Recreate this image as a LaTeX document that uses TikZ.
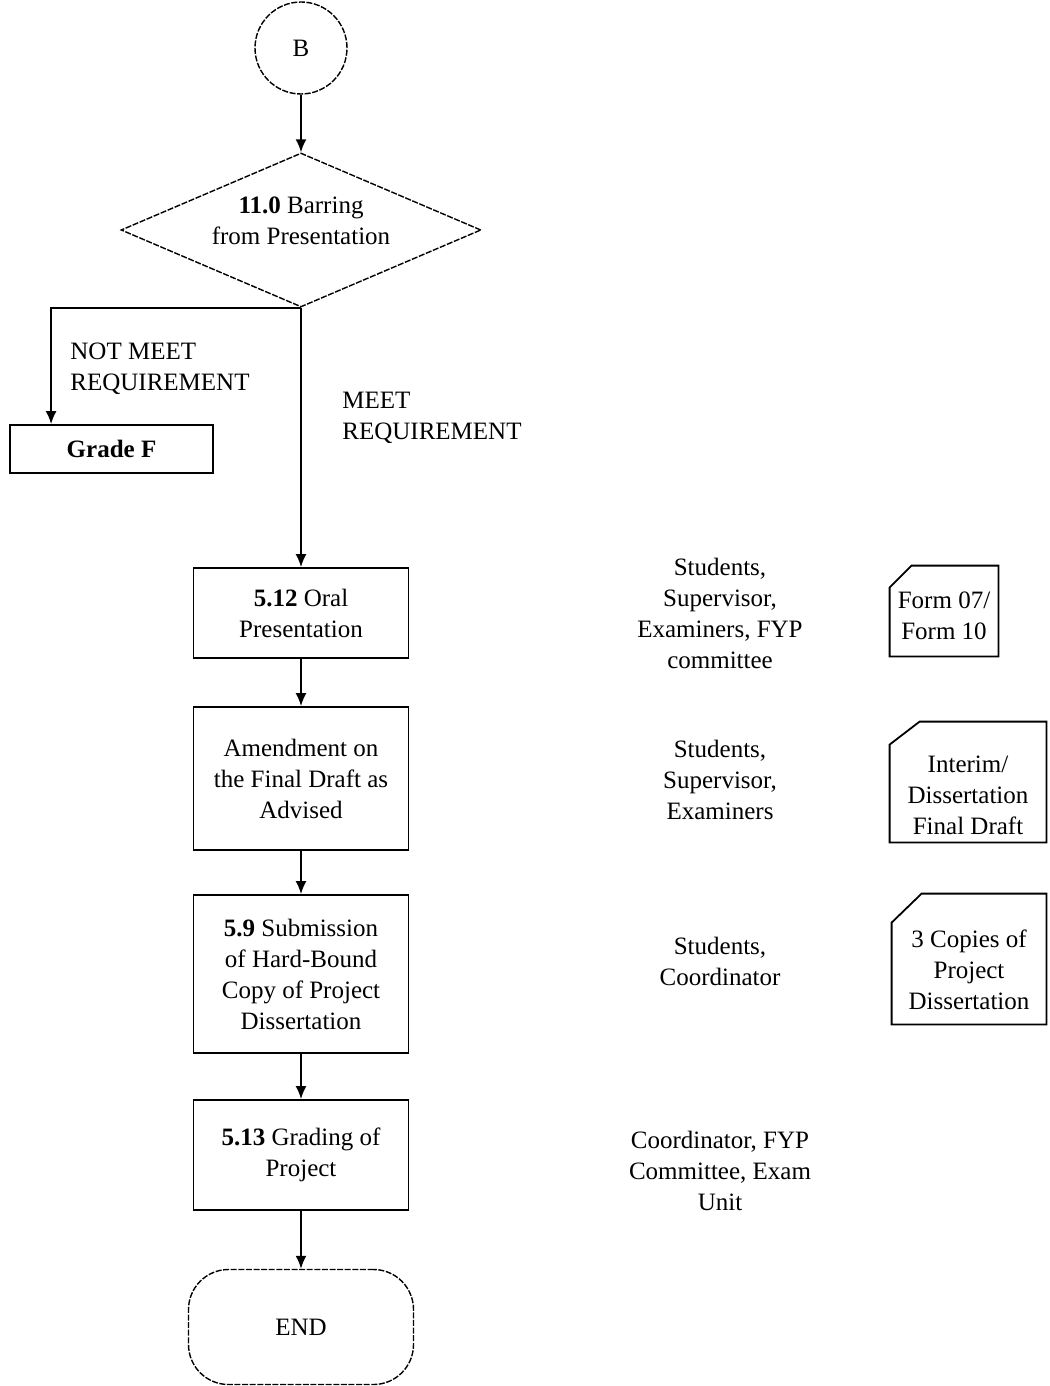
\documentclass[tikz,border=0pt]{standalone}
\usepackage{fontspec}
\setmainfont{Liberation Serif}
\usetikzlibrary{shapes.geometric,arrows.meta,calc}
\begin{document}
\begin{tikzpicture}[x=0.5pt,y=-0.5pt,
  every node/.style={font=\fontsize{12.5}{15.5}\selectfont, align=center, inner sep=0pt},
  box/.style={draw, line width=0.9pt, minimum width=107.5pt},
  arr/.style={-{Latex[length=6.5pt,width=5.5pt]}, line width=0.9pt},
  dsh/.style={draw, line width=0.7pt, dash pattern=on 3pt off 0.8pt},
  docline/.style={draw, line width=0.9pt},
  lbl/.style={align=left}
]
\useasboundingbox (0,0) rectangle (1049,1386);

% start connector
\node[dsh, circle, minimum size=46pt] (b) at (301,48) {B};

% decision
\node[dsh, diamond, minimum width=180pt, minimum height=77pt, aspect=2.34] (d) at (301,230) {};
\node (dt) at (301,221) {\textbf{11.0} Barring\\from Presentation};

% grade F
\node[box, minimum width=101.5pt, minimum height=24pt] (gf) at (111.5,449) {\textbf{Grade F}};

% main column
\node[box, minimum height=45pt] (oral) at (301,613) {\textbf{5.12} Oral\\Presentation};
\node[box, minimum height=71.5pt] (amend) at (301,778.5) {Amendment on\\the Final Draft as\\Advised};
\node[box, minimum height=79pt] (sub) at (301,974) {\textbf{5.9} Submission\\of Hard-Bound\\Copy of Project\\Dissertation};
\node[box, minimum height=55pt] (grad) at (301,1155) {\textbf{5.13} Grading of\\Project};
\node[dsh, rounded corners=20pt, minimum width=112.5pt, minimum height=57.5pt] (end) at (301,1327) {END};

% labels on branches
\node[lbl, anchor=north west] (nm) at (70,343) {NOT MEET\\REQUIREMENT};
\node[lbl, anchor=north west] (mr) at (342,392) {MEET\\REQUIREMENT};

% responsible parties
\node (r1) at (720,613) {Students,\\Supervisor,\\Examiners, FYP\\committee};
\node (r2) at (720,780) {Students,\\Supervisor,\\Examiners};
\node (r3) at (720,961) {Students,\\Coordinator};
\node (r4) at (720,1171) {Coordinator, FYP\\Committee, Exam\\Unit};

% documents
\node[minimum width=54pt, minimum height=45pt] (f1) at (944,611) {};
\node (f1t) at (944,616) {Form 07/\\Form 10};
\draw[docline] ($(f1.north west)+(22,0)$) -- (f1.north east) -- (f1.south east) -- (f1.south west) -- ($(f1.north west)+(0,22)$) -- cycle;

\node[minimum width=78pt, minimum height=60pt] (f2) at (968,782) {};
\node (f2t) at (968,795) {Interim/\\Dissertation\\Final Draft};
\draw[docline] ($(f2.north west)+(30,0)$) -- (f2.north east) -- (f2.south east) -- (f2.south west) -- ($(f2.north west)+(0,23)$) -- cycle;

\node[minimum width=77pt, minimum height=65pt] (f3) at (969,959) {};
\node (f3t) at (969,970) {3 Copies of\\Project\\Dissertation};
\draw[docline] ($(f3.north west)+(30,0)$) -- (f3.north east) -- (f3.south east) -- (f3.south west) -- ($(f3.north west)+(0,29)$) -- cycle;

% connectors
\draw[arr] (b) -- (d.north);
\draw[arr] (d.south) -| ([xshift=21pt]gf.north west);
\draw[arr] (d.south) -- (oral.north);
\draw[arr] (oral) -- (amend);
\draw[arr] (amend) -- (sub);
\draw[arr] (sub) -- (grad);
\draw[arr] (grad) -- (end);
\end{tikzpicture}
\end{document}
